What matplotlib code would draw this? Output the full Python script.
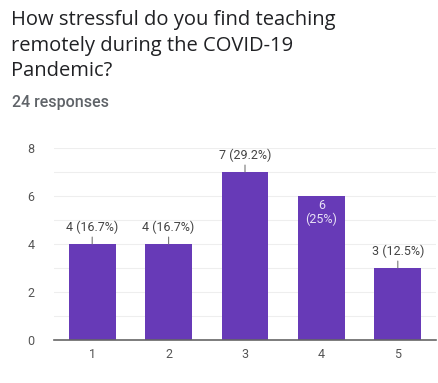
import matplotlib.pyplot as plt

# survey answers (1 = not stressful ... 5 = very stressful)
categories = ["1", "2", "3", "4", "5"]
counts = [4, 4, 7, 6, 3]
percent_labels = ["16.7%", "16.7%", "29.2%", "25%", "12.5%"]
total_responses = 24

title = "How stressful do you find teaching\nremotely during the COVID-19\nPandemic?"
bar_color = "#673AB7"

plt.rcParams["font.family"] = ["Roboto", "DejaVu Sans"]

fig = plt.figure(figsize=(4.39, 3.83), dpi=100)
fig.patch.set_facecolor("white")

fig.text(11 / 439, 1 - 10 / 383, title, ha="left", va="top",
         fontsize=14.5, color="#202124", linespacing=1.38,
         family=["Open Sans", "DejaVu Sans"])
fig.text(12 / 439, 1 - 102 / 383, f"{total_responses} responses", ha="left",
         va="center", fontsize=11.5, color="#5f6368", fontweight="medium")

ax = fig.add_axes([54 / 439, 43 / 383, 382 / 439, 192 / 383])
x = list(range(len(categories)))
ax.bar(x, counts, width=0.61, color=bar_color, zorder=3)

ax.set_xlim(-0.5, len(categories) - 0.5)
ax.set_ylim(0, 8)
ax.set_yticks([0, 2, 4, 6, 8])
ax.set_yticks(range(0, 9), minor=True)
ax.set_xticks(x)
ax.set_xticklabels(categories)
ax.grid(True, which="both", axis="y", color="#eeeeee", linewidth=0.8, zorder=0)
ax.tick_params(axis="both", which="both", length=0, labelsize=9,
               labelcolor="#555555")
ax.tick_params(axis="y", pad=14)
ax.tick_params(axis="x", pad=6)
for side in ("top", "right", "left"):
    ax.spines[side].set_visible(False)
ax.spines["bottom"].set_color("#666666")
ax.spines["bottom"].set_linewidth(1.2)
ax.spines["bottom"].set_zorder(4)

for xi, n, pct in zip(x, counts, percent_labels):
    if n == 6:
        # label fits inside the bar
        ax.annotate(f"{n}\n({pct})", xy=(xi, n), xytext=(0, -2),
                    textcoords="offset points", ha="center", va="top",
                    fontsize=9, color="#e8e0f5", linespacing=1.05, zorder=5)
    else:
        ax.annotate(f"{n} ({pct})", xy=(xi, n), xytext=(0, 7),
                    textcoords="offset points", ha="center", va="bottom",
                    fontsize=9, color="#444444", zorder=5,
                    arrowprops=dict(arrowstyle="-", color="#777777", lw=0.8,
                                    shrinkA=0, shrinkB=0))

fig.savefig("out.png", dpi=100, facecolor="white")
